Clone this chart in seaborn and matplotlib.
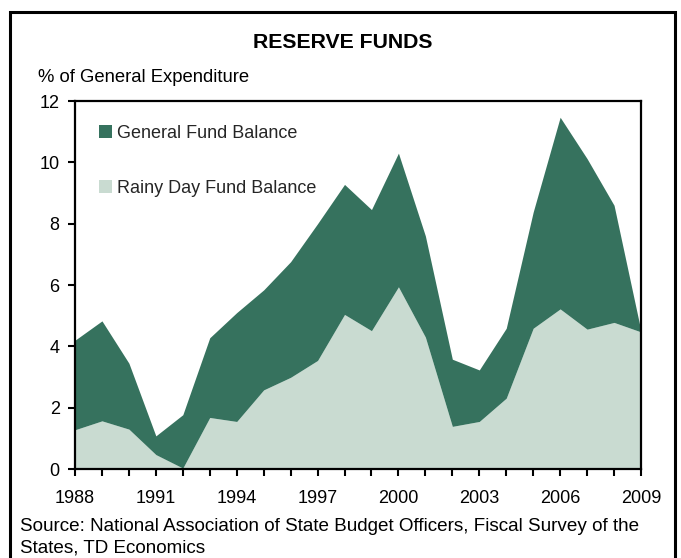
import matplotlib
matplotlib.use("Agg")
import matplotlib.pyplot as plt
from matplotlib.patches import Rectangle, Patch
import numpy as np
import pandas as pd
import seaborn as sns

# Fiscal years and reserve balances (% of general expenditure)
years = list(range(1988, 2010))
rainy_day = [1.28, 1.57, 1.30, 0.47, 0.03, 1.68, 1.55, 2.58, 2.99, 3.54, 5.04,
             4.51, 5.94, 4.30, 1.39, 1.55, 2.31, 4.59, 5.22, 4.56, 4.78, 4.47]
general_fund = [2.92, 3.26, 2.15, 0.61, 1.74, 2.60, 3.55, 3.26, 3.77, 4.46, 4.24,
                3.95, 4.36, 3.30, 2.19, 1.68, 2.28, 3.79, 6.25, 5.56, 3.82, 0.03]
series_labels = ["General Fund Balance", "Rainy Day Fund Balance"]
xtick_years = [1988, 1991, 1994, 1997, 2000, 2003, 2006, 2009]
ytick_values = [0, 2, 4, 6, 8, 10, 12]

title = "RESERVE FUNDS"
y_title = "% of General Expenditure"
source = ("Source: National Association of State Budget Officers, Fiscal Survey of the\n"
          "States, TD Economics")

df = pd.DataFrame({"year": years, "rainy": rainy_day, "general": general_fund})

sns.set_theme(style="white")
plt.rcParams["font.family"] = ["Liberation Sans", "DejaVu Sans"]

dark_green = "#36725E"
light_green = "#C9DBD1"

fig = plt.figure(figsize=(6.81, 5.58), dpi=100)
ax = fig.add_axes([75 / 681, 1 - 469 / 558, 566 / 681, 368 / 558])

ax.stackplot(df["year"], df["rainy"], df["general"],
             colors=[light_green, dark_green], linewidth=0)

ax.set_xlim(years[0], years[-1])
ax.set_ylim(0, 12)
ax.set_xticks(years, minor=True)
ax.set_xticks(xtick_years)
ax.set_xticklabels([str(y) for y in xtick_years])
ax.set_yticks(ytick_values)
ax.tick_params(axis="both", which="both", direction="out", length=5, width=1.5,
               color="black", labelsize=13, labelcolor="black", pad=6)
ax.tick_params(axis="x", which="major", pad=10)
ax.tick_params(left=True, bottom=True)
ax.tick_params(axis="x", which="minor", bottom=True)
for s in ax.spines.values():
    s.set_visible(True)
    s.set_color("black")
    s.set_linewidth(1.6)

handles = [Patch(facecolor=dark_green, edgecolor="none"),
           Patch(facecolor=light_green, edgecolor="none")]
ax.legend(handles, series_labels, loc="upper left", bbox_to_anchor=(0.03, 0.955),
          frameon=False, fontsize=13, handlelength=0.7, handleheight=0.7,
          handletextpad=0.3, labelspacing=2.1, borderaxespad=0)

fig.text(343 / 681, 1 - 43 / 558, title, ha="center", va="center",
         fontsize=15.3, fontweight="bold", color="black")
fig.text(38 / 681, 1 - 77 / 558, y_title, ha="left", va="center",
         fontsize=13.3, color="black")
fig.text(20 / 681, 1 - 518 / 558, source, ha="left", va="top",
         fontsize=13.6, color="black", linespacing=1.38)

# outer frame around the whole panel
fig.patches.append(Rectangle((10 / 681, -0.05), 665 / 681, 1.05 - 12 / 558,
                             transform=fig.transFigure, fill=False,
                             edgecolor="black", linewidth=2.2))

fig.savefig("out.png", dpi=100)
